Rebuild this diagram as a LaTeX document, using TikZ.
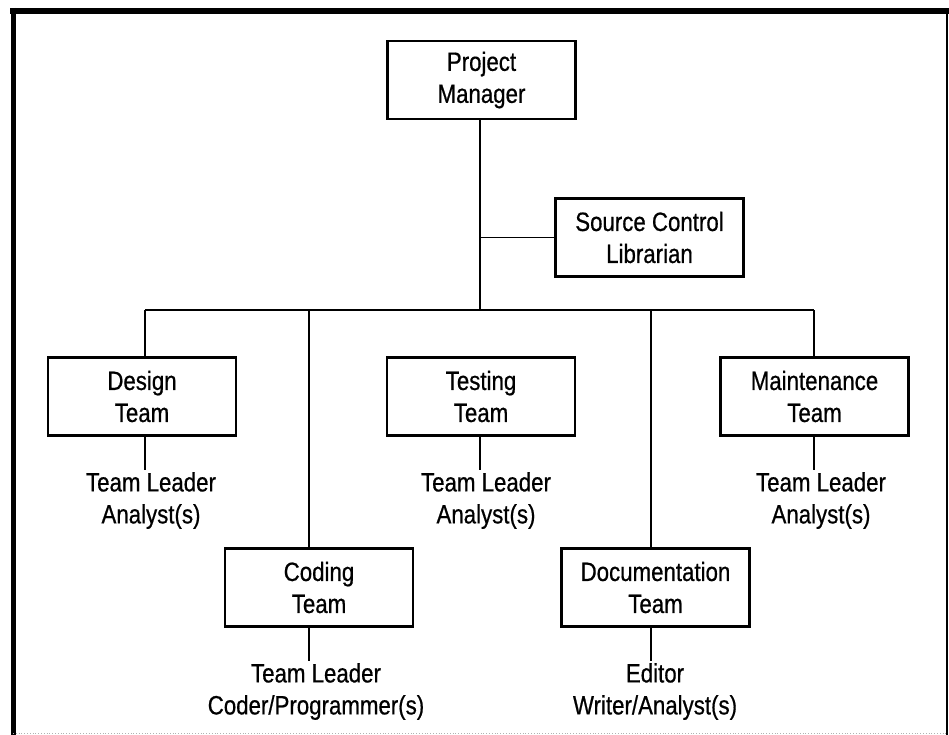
\documentclass[tikz,border=0pt]{standalone}
\usepackage{fontspec}
\setmainfont{Liberation Sans}[FakeStretch=0.84, FakeBold=0.6]
\begin{document}
\begin{tikzpicture}[x=1pt,y=-1pt,
  unit/.style={draw, line width=2.8pt, minimum width=188pt, minimum height=78pt,
    inner sep=0pt, align=center, font=\fontsize{26.5}{32}\selectfont},
  staff/.style={inner sep=2pt, anchor=north, align=center, font=\fontsize{26.5}{32}\selectfont},
  link/.style={line width=1.8pt}]
\useasboundingbox (0,0) rectangle (949,735);

% page frame
\draw[line width=5pt] (13,8) -- (13,735);
\draw[line width=6pt] (10,11) -- (949,11);
\draw[line width=2pt] (947,11) -- (947,735);
\draw[line width=0.8pt, black!30, dotted] (13,733) -- (947,733);

% boxes
\node[unit] (pm)  at (481.5,80)  {Project\\Manager};
\node[unit] (scl) at (649.5,237.5) {Source Control\\Librarian};
\node[unit] (des) at (142,396.5) {Design\\Team};
\node[unit] (tst) at (481,396.5) {Testing\\Team};
\node[unit] (mnt) at (814.5,396.5) {Maintenance\\Team};
\node[unit] (cod) at (319,587.5) {Coding\\Team};
\node[unit] (doc) at (655.5,587.5) {Documentation\\Team};

% drop-line positions
\coordinate (xpm)  at (480,0);
\coordinate (xdes) at (145,0);
\coordinate (xtst) at (480,0);
\coordinate (xmnt) at (814,0);
\coordinate (xcod) at (309,0);
\coordinate (xdoc) at (651,0);
\coordinate (busy) at (0,310);

% staff lists
\node[staff] (sdes) at (151,470) {Team Leader\\Analyst(s)};
\node[staff] (ststx) at (486,470) {Team Leader\\Analyst(s)};
\node[staff] (smnt) at (821,470) {Team Leader\\Analyst(s)};
\node[staff] (scod) at (316,661) {Team Leader\\Coder/Programmer(s)};
\node[staff] (sdoc) at (655,661) {Editor\\Writer/Analyst(s)};

% main spine and librarian branch
\draw[link] (xpm |- pm.south) -- (xpm |- busy);
\draw[link] (xpm |- scl.west) -- (scl.west);

% horizontal bus
\draw[link] (xdes |- busy) -- (xmnt |- busy);

% drops to teams
\draw[link] (xdes |- busy) -- (xdes |- des.north);
\draw[link] (xmnt |- busy) -- (xmnt |- mnt.north);
\draw[link] (xcod |- busy) -- (xcod |- cod.north);
\draw[link] (xdoc |- busy) -- (xdoc |- doc.north);

% teams to staff
\draw[link] (xdes |- des.south) -- (xdes |- sdes.north);
\draw[link] (xtst |- tst.south) -- (xtst |- ststx.north);
\draw[link] (xmnt |- mnt.south) -- (xmnt |- smnt.north);
\draw[link] (xcod |- cod.south) -- (xcod |- scod.north);
\draw[link] (xdoc |- doc.south) -- (xdoc |- sdoc.north);
\end{tikzpicture}
\end{document}
